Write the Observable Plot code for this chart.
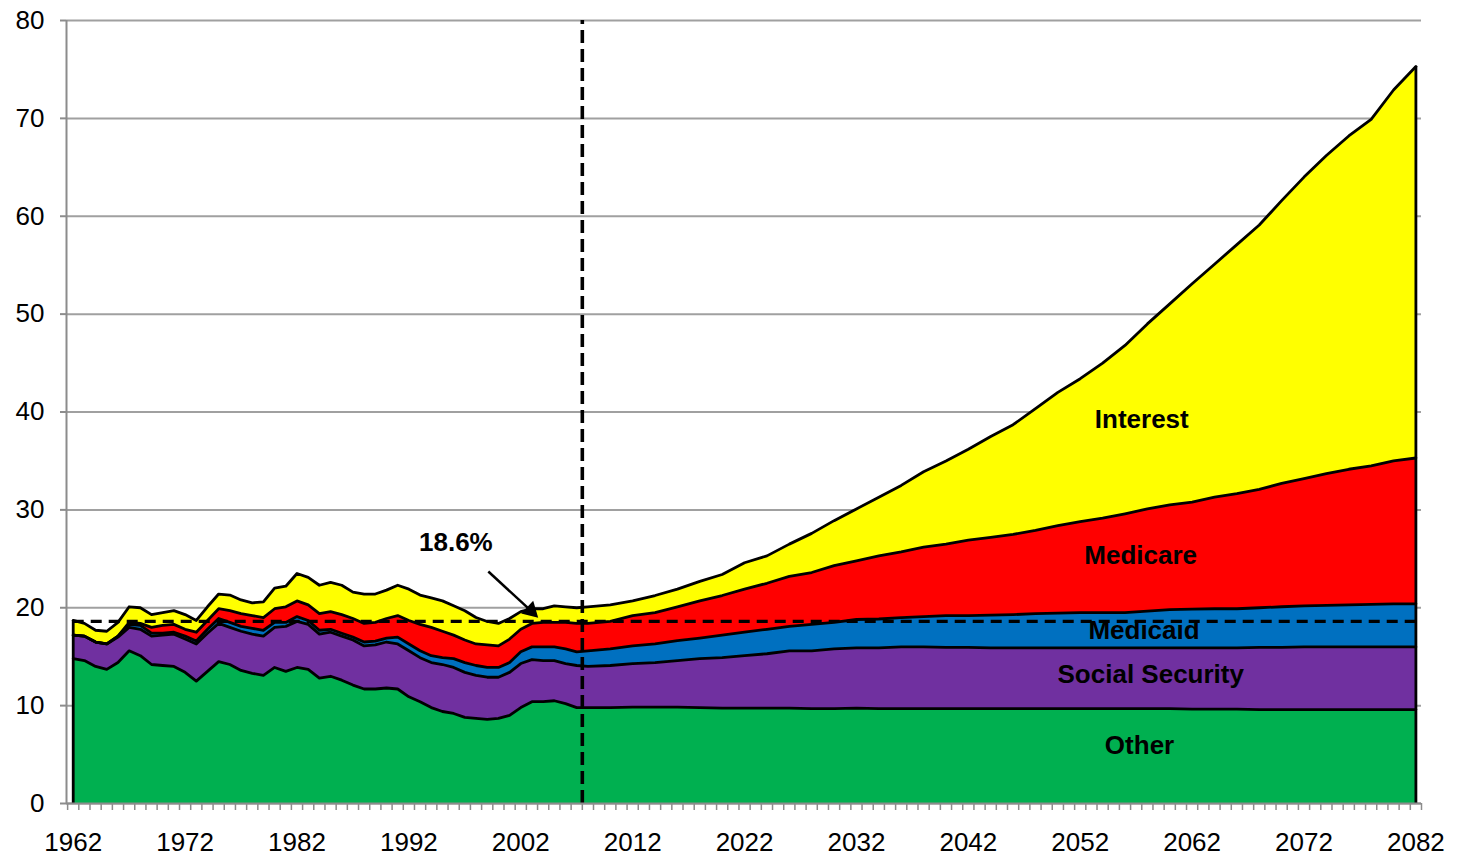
<!DOCTYPE html>
<html><head><meta charset="utf-8">
<script src="https://cdn.jsdelivr.net/npm/d3@7"></script>
<script src="https://cdn.jsdelivr.net/npm/@observablehq/plot@0.6"></script>
<style>html,body{margin:0;padding:0;background:#fff;} #chart svg{display:block}</style>
</head><body><div id="chart"></div>
<script>
// Years: annual history 1962-2007, projection read every two years 2008-2082
const years = [
  1962,1963,1964,1965,1966,1967,1968,1969,1970,1971,
  1972,1973,1974,1975,1976,1977,1978,1979,1980,1981,
  1982,1983,1984,1985,1986,1987,1988,1989,1990,1991,
  1992,1993,1994,1995,1996,1997,1998,1999,2000,2001,
  2002,2003,2004,2005,2006,2007,
  2008,2010,2012,2014,2016,2018,2020,2022,2024,2026,
  2028,2030,2032,2034,2036,2038,2040,2042,2044,2046,
  2048,2050,2052,2054,2056,2058,2060,2062,2064,2066,
  2068,2070,2072,2074,2076,2078,2080,2082
];
const other = [
  14.8,14.6,14.0,13.7,14.4,15.6,15.1,14.2,14.1,14.0,
  13.4,12.5,13.5,14.5,14.2,13.6,13.3,13.1,13.9,13.5,
  13.9,13.7,12.8,13.0,12.6,12.1,11.7,11.7,11.8,11.7,
  10.9,10.4,9.8,9.4,9.2,8.8,8.7,8.6,8.7,9.0,
  9.8,10.4,10.4,10.5,10.2,9.8,
  9.8,9.8,9.85,9.85,9.85,9.8,9.75,9.75,9.75,9.75,
  9.7,9.7,9.75,9.7,9.7,9.7,9.7,9.7,9.7,9.7,
  9.7,9.7,9.7,9.7,9.7,9.7,9.7,9.65,9.65,9.65,
  9.6,9.6,9.6,9.6,9.6,9.6,9.6,9.6
];
const socialSecurity = [
  2.4,2.5,2.5,2.6,2.6,2.4,2.7,2.9,3.1,3.3,
  3.4,3.8,3.9,3.9,3.8,4.0,4.0,4.0,4.1,4.6,
  4.7,4.6,4.5,4.5,4.5,4.6,4.4,4.5,4.7,4.6,
  4.7,4.5,4.6,4.8,4.7,4.6,4.4,4.3,4.2,4.4,
  4.5,4.3,4.2,4.1,4.1,4.3,
  4.2,4.3,4.45,4.55,4.75,5.0,5.15,5.35,5.55,5.85,
  5.9,6.1,6.15,6.2,6.3,6.3,6.25,6.25,6.2,6.2,
  6.2,6.2,6.2,6.2,6.2,6.2,6.2,6.25,6.25,6.25,
  6.35,6.35,6.4,6.4,6.4,6.4,6.4,6.4
];
const medicaid = [
  0,0,0,0,0.1,0.3,0.4,0.3,0.2,0.2,
  0.3,0.3,0.4,0.5,0.5,0.5,0.6,0.6,0.5,0.4,
  0.5,0.4,0.4,0.3,0.3,0.3,0.4,0.4,0.4,0.7,
  0.7,0.7,0.7,0.7,0.9,1.0,1.0,1.0,1.0,1.0,
  1.2,1.3,1.4,1.4,1.5,1.4,
  1.6,1.7,1.8,1.9,2.05,2.1,2.3,2.4,2.5,2.5,
  2.7,2.7,2.9,2.95,3.0,3.1,3.25,3.25,3.35,3.4,
  3.5,3.55,3.6,3.6,3.6,3.75,3.9,3.95,4.0,4.0,
  4.05,4.15,4.2,4.25,4.3,4.35,4.4,4.4
];
const medicare = [
  0,0,0,0,0,0.2,0.2,0.6,0.8,0.8,
  0.7,0.9,0.9,1.0,1.2,1.3,1.3,1.3,1.4,1.6,
  1.6,1.6,1.7,1.8,1.9,1.9,1.9,1.9,2.0,2.2,
  2.4,2.7,2.9,2.7,2.4,2.3,2.2,2.3,2.2,2.4,
  2.3,2.4,2.5,2.5,2.7,2.9,
  2.8,2.8,3.1,3.2,3.45,3.8,4.05,4.4,4.7,5.1,
  5.3,5.8,6.0,6.45,6.7,7.1,7.3,7.7,7.95,8.2,
  8.5,8.95,9.3,9.65,10.1,10.45,10.7,10.95,11.4,11.75,
  12.1,12.6,13.0,13.45,13.85,14.15,14.6,14.9
];
const interest = [
  1.5,1.3,1.2,1.3,1.4,1.6,1.6,1.3,1.3,1.4,
  1.5,1.2,1.4,1.5,1.6,1.4,1.3,1.6,2.1,2.1,
  2.8,2.8,2.9,3.0,3.0,2.7,3.0,2.9,2.9,3.1,
  3.2,3.0,3.0,3.1,3.0,3.0,2.7,2.4,2.3,2.1,
  1.8,1.5,1.4,1.7,1.6,1.6,
  1.7,1.7,1.5,1.75,1.8,2.0,2.15,2.7,2.8,3.3,
  4.0,4.6,5.3,6.0,6.8,7.7,8.5,9.3,10.3,11.2,
  12.45,13.6,14.6,15.85,17.2,18.9,20.55,22.3,23.8,25.45,
  27.0,28.9,30.8,32.5,34.05,35.4,37.9,40.0
];
const seriesNames = ["Other", "Social Security", "Medicaid", "Medicare", "Interest"];
const yTicks = [0, 10, 20, 30, 40, 50, 60, 70, 80];
const xLabelTicks = [1962, 1972, 1982, 1992, 2002, 2012, 2022, 2032, 2042, 2052, 2062, 2072, 2082];
const benchmark = 18.6;
const benchmarkLabel = "18.6%";
const projectionStart = 2007.5;

// styles and annotation placement (not data)
const seriesColors = ["#00B050", "#7030A0", "#0070C0", "#FF0000", "#FFFF00"];
const seriesLabelPos = [
  {name: "Interest", x: 2057.5, y: 39.2},
  {name: "Medicare", x: 2057.4, y: 25.3},
  {name: "Medicaid", x: 2057.7, y: 17.7},
  {name: "Social Security", x: 2058.3, y: 13.2},
  {name: "Other", x: 2057.3, y: 5.9}
];
const noteText = {x: 1996.2, y: 26.6};
const noteArrow = {x1: 1999.1, y1: 23.7, x2: 2002.9, y2: 19.7};

const valuesBySeries = {"Other": other, "Social Security": socialSecurity, "Medicaid": medicaid, "Medicare": medicare, "Interest": interest};
const table = seriesNames.flatMap(name => years.map((year, i) => ({year, series: name, value: valuesBySeries[name][i]})));
const totals = years.map((year, i) => ({year, total: other[i] + socialSecurity[i] + medicaid[i] + medicare[i] + interest[i]}));
const xDomain = [1961.4, 2082.5];
const yearBoundaries = d3.range(1961.5, 2083, 1);
const axisGray = "#8c8c8c";

const chart = Plot.plot({
  width: 1458, height: 856,
  marginLeft: 66, marginRight: 37, marginTop: 20, marginBottom: 53,
  x: {domain: xDomain},
  y: {domain: [0, 80]},
  color: {domain: seriesNames, range: seriesColors},
  style: {fontFamily: "'Liberation Sans', Arial, sans-serif", fontSize: "26px", color: "#000", background: "#fff"},
  marks: [
    Plot.gridY(yTicks, {stroke: "#a0a0a0", strokeOpacity: 1, strokeWidth: 2}),
    Plot.areaY(table, Plot.stackY({x: "year", y: "value", z: "series", fill: "series", order: seriesNames})),
    Plot.lineY(table, Plot.stackY2({x: "year", y: "value", z: "series", order: seriesNames, stroke: "#000", strokeWidth: 2.8, strokeLinejoin: "round"})),
    Plot.ruleX([totals[0], totals[totals.length - 1]], {x: "year", y1: 0, y2: "total", stroke: "#000", strokeWidth: 2.8}),
    Plot.ruleY([benchmark], {x1: years[0], x2: years[years.length - 1], stroke: "#000", strokeWidth: 3.2, strokeDasharray: "11,7"}),
    Plot.ruleX([projectionStart], {y1: 0, y2: 80, stroke: "#000", strokeWidth: 3.6, strokeDasharray: "13,6"}),
    Plot.ruleY([0], {stroke: axisGray, strokeWidth: 2}),
    Plot.ruleX([xDomain[0]], {stroke: axisGray, strokeWidth: 2}),
    Plot.axisY({ticks: yTicks, tickSize: 6, tickPadding: 16, stroke: axisGray, strokeWidth: 2, label: null, fontSize: 26, tickFormat: d => String(d)}),
    Plot.axisX({ticks: yearBoundaries, tickSize: 7, tickFormat: () => "", stroke: axisGray, strokeWidth: 1.5, label: null}),
    Plot.axisX({ticks: xLabelTicks, tickSize: 0, tickPadding: 29, tickFormat: d => String(d), label: null, fontSize: 26}),
    Plot.text(seriesLabelPos, {x: "x", y: "y", text: "name", fontWeight: "bold", fontSize: 26, fill: "#000"}),
    Plot.text([noteText], {x: "x", y: "y", text: () => benchmarkLabel, fontWeight: "bold", fontSize: 26, fill: "#000"}),
    Plot.link([noteArrow], {x1: "x1", y1: "y1", x2: "x2", y2: "y2", stroke: "#000", strokeWidth: 2.5}),
    Plot.dot([noteArrow], {x: "x2", y: "y2", symbol: "triangle", r: 6.5, fill: "#000", stroke: "none", rotate: 133.5})
  ]
});
document.getElementById("chart").appendChild(chart);
</script>
</body></html>
